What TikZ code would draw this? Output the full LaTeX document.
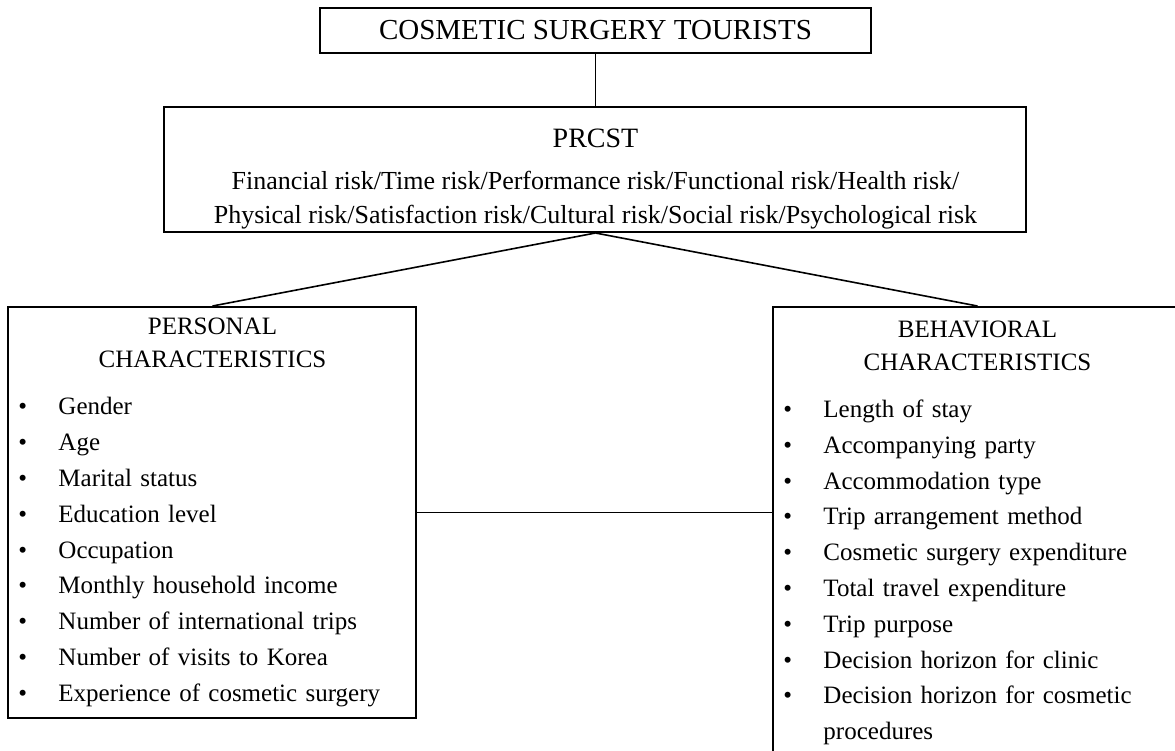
\documentclass[tikz,border=0pt]{standalone}
\usepackage{fontspec}
\setmainfont{Liberation Serif}
\usetikzlibrary{positioning}

\newcommand{\itm}[1]{\par\noindent\makebox[20pt][l]{\textbullet}#1}
\newcommand{\itmcont}[1]{\par\noindent\hspace*{20pt}#1}

\begin{document}
\begin{tikzpicture}[
    node distance=26pt,
    box/.style={draw, line width=1pt, align=center, inner sep=0pt},
    catbox/.style={draw, line width=1pt, text width=194pt, inner xsep=5pt, inner ysep=5.5pt, font=\fontsize{12.5}{17.9}\selectfont},
    link/.style={line width=0.8pt}
  ]
    \useasboundingbox (-297.75pt,15.25pt) rectangle (289.75pt,-360.25pt);
    \node[box, minimum width=275.5pt, minimum height=22.5pt, font=\fontsize{14.5}{17}\selectfont] (tourists) {COSMETIC SURGERY TOURISTS};
    \node[box, below=of tourists, minimum width=431pt, minimum height=62.5pt, font=\fontsize{13}{17}\selectfont] (prcst)
      {\rule{0pt}{19pt}{\fontsize{14}{17}\selectfont PRCST}\\[4pt]
       Financial risk/Time risk/Performance risk/Functional risk/Health risk/\\
       Physical risk/Satisfaction risk/Cultural risk/Social risk/Psychological risk};
    \node[catbox, below=36.5pt of prcst.south west, xshift=24.5pt, minimum height=205.5pt] (personal)
      {{\fontsize{12.5}{16.5}\selectfont\centering PERSONAL\\CHARACTERISTICS\par}\vspace{5.6pt}
       \itm{Gender}\itm{Age}\itm{Marital status}\itm{Education level}\itm{Occupation}
       \itm{Monthly household income}\itm{Number of international trips}
       \itm{Number of visits to Korea}\itm{Experience of cosmetic surgery}};
    \node[catbox, below=36.5pt of prcst.south east, xshift=-25pt, inner ysep=7pt] (behavioral)
      {{\fontsize{12.5}{16.5}\selectfont\centering BEHAVIORAL\\CHARACTERISTICS\par}\vspace{5.6pt}
       \itm{Length of stay}\itm{Accompanying party}\itm{Accommodation type}
       \itm{Trip arrangement method}\itm{Cosmetic surgery expenditure}
       \itm{Total travel expenditure}\itm{Trip purpose}\itm{Decision horizon for clinic}
       \itm{Decision horizon for cosmetic}\itmcont{procedures}};
    \draw[link] (tourists) -- (prcst);
    \draw[link] (prcst.south) -- (personal.north);
    \draw[link] (prcst.south) -- (behavioral.north);
    \draw[link] (personal.east) -- (personal.east -| behavioral.west);
  \end{tikzpicture}
\end{document}
